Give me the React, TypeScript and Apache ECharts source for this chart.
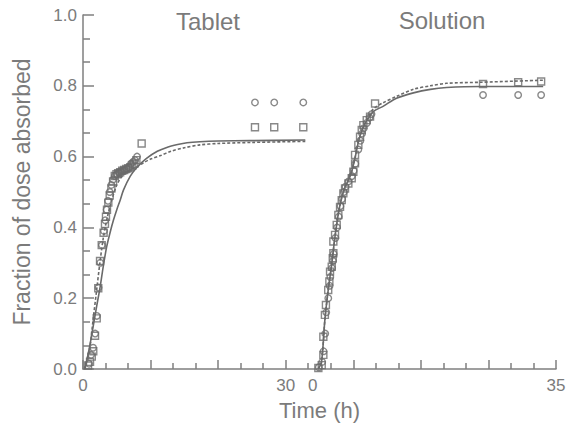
import React, { useEffect, useRef } from "react";
import * as echarts from "echarts";

// ---------- data (time in hours, fraction absorbed) ----------
const tabletSquareTime = [0.75, 1.04, 1.3, 1.52, 1.78, 2.03, 2.26, 2.52, 2.77, 3.05, 3.25, 3.4, 3.55, 3.75, 3.95, 4.2, 4.45, 4.7, 4.95, 5.2, 5.5, 5.8, 6.1, 6.4, 6.7, 7.0, 7.3, 7.6, 7.9, 8.68, 25.45, 28.3, 32.6];
const tabletSquareValue = [0.01, 0.02, 0.035, 0.05, 0.094, 0.143, 0.228, 0.305, 0.35, 0.385, 0.41, 0.43, 0.45, 0.47, 0.49, 0.51, 0.53, 0.545, 0.55, 0.553, 0.556, 0.56, 0.562, 0.565, 0.567, 0.57, 0.575, 0.58, 0.59, 0.637, 0.683, 0.683, 0.683];

const tabletCircleTime = [0.9, 1.2, 1.5, 1.8, 2.05, 2.3, 2.55, 2.8, 3.1, 3.3, 3.5, 3.7, 3.95, 4.2, 4.45, 4.7, 5.0, 5.3, 5.6, 5.9, 6.2, 6.5, 6.8, 7.1, 7.4, 7.7, 8.0, 25.45, 28.3, 32.6];
const tabletCircleValue = [0.015, 0.04, 0.06, 0.1, 0.15, 0.23, 0.3, 0.35, 0.39, 0.42, 0.45, 0.475, 0.5, 0.52, 0.535, 0.545, 0.55, 0.555, 0.558, 0.56, 0.562, 0.565, 0.57, 0.58, 0.585, 0.59, 0.6, 0.753, 0.753, 0.753];

const tabletSolidTime = [0.3, 1, 1.5, 2, 2.52, 3, 3.5, 4, 4.5, 5, 5.5, 6, 7, 8, 9.4, 11, 12.4, 14, 15.4, 17.3, 20, 24.7, 32.9];
const tabletSolidValue = [0, 0.065, 0.12, 0.175, 0.23, 0.29, 0.345, 0.385, 0.42, 0.45, 0.477, 0.506, 0.545, 0.57, 0.595, 0.615, 0.626, 0.634, 0.639, 0.642, 0.644, 0.645, 0.647];

const tabletDashedTime = [0.2, 1, 1.5, 2, 2.5, 3, 3.5, 4, 5, 6, 7, 8, 9, 10, 11.5, 13, 15, 17.3, 20, 25, 32.9];
const tabletDashedValue = [0, 0.06, 0.14, 0.22, 0.3, 0.37, 0.42, 0.46, 0.52, 0.55, 0.562, 0.572, 0.583, 0.593, 0.603, 0.615, 0.625, 0.633, 0.637, 0.64, 0.643];

const solutionSquareTime = [0.03, 0.53, 0.77, 0.77, 1.0, 1.15, 1.49, 1.66, 1.76, 2.01, 2.16, 2.25, 2.25, 2.5, 2.75, 2.99, 3.24, 3.49, 3.73, 3.98, 4.47, 4.97, 5.21, 5.46, 5.46, 5.95, 6.2, 6.45, 6.69, 7.19, 7.68, 8.42, 24.4, 29.6, 33.0];
const solutionSquareValue = [0.003, 0.011, 0.04, 0.091, 0.153, 0.181, 0.223, 0.247, 0.275, 0.289, 0.313, 0.327, 0.36, 0.379, 0.407, 0.435, 0.458, 0.477, 0.496, 0.51, 0.524, 0.539, 0.557, 0.581, 0.605, 0.633, 0.656, 0.675, 0.689, 0.703, 0.713, 0.75, 0.805, 0.81, 0.812];

const solutionCircleTime = [0.1, 0.6, 0.8, 1.05, 1.2, 1.5, 1.7, 1.8, 2.05, 2.2, 2.3, 2.55, 2.8, 3.05, 3.3, 3.55, 3.8, 4.05, 4.5, 5.0, 5.25, 5.5, 5.95, 6.25, 6.5, 6.75, 7.2, 7.6, 7.9, 24.4, 29.6, 33.0];
const solutionCircleValue = [0.005, 0.02, 0.05, 0.1, 0.16, 0.2, 0.235, 0.26, 0.285, 0.305, 0.325, 0.37, 0.4, 0.43, 0.46, 0.48, 0.5, 0.515, 0.53, 0.545, 0.56, 0.58, 0.62, 0.645, 0.665, 0.68, 0.695, 0.71, 0.72, 0.774, 0.774, 0.774];

const solutionSolidTime = [0, 0.5, 1, 1.5, 2, 2.5, 3, 3.5, 4, 4.5, 5, 5.5, 6, 6.5, 7, 7.5, 8.2, 9.6, 11.6, 14.1, 16.6, 19, 24, 33.3];
const solutionSolidValue = [0, 0.02, 0.14, 0.225, 0.295, 0.375, 0.44, 0.485, 0.515, 0.535, 0.56, 0.6, 0.645, 0.675, 0.695, 0.71, 0.728, 0.742, 0.765, 0.78, 0.79, 0.795, 0.798, 0.798];

const solutionDashedTime = [0, 0.5, 1, 1.5, 2, 2.5, 3, 3.5, 4, 4.5, 5, 5.5, 6, 6.5, 7, 7.5, 8.2, 9.6, 11.6, 14.1, 16.6, 19, 24, 33.5];
const solutionDashedValue = [0, 0.02, 0.14, 0.225, 0.295, 0.375, 0.44, 0.485, 0.515, 0.535, 0.56, 0.6, 0.645, 0.675, 0.697, 0.715, 0.735, 0.752, 0.77, 0.79, 0.8, 0.807, 0.81, 0.816];

// tick labels of the shared time axis (tablet 0..30, solution 0..35)
const xLabelPositions = [0, 30, 34, 70];
const xLabelTexts = ["0", "30", "0", "35"];
const panelTitles = ["Tablet", "Solution"];

const FONT = '"Liberation Sans", Arial, Helvetica, sans-serif';
const TEXT = "#7b7b7b";
const AXIS = "#7f7f7f";
const MARK = "#6a6a6a";

const pairs = (t: number[], v: number[]) => t.map((x, i) => [x, v[i]]);

export default function App() {
  const ref = useRef<HTMLDivElement>(null);
  useEffect(() => {
    if (!ref.current) return;
    const chart = echarts.init(ref.current, undefined, { renderer: "svg" });
    const scatterStyle = {
      color: "rgba(0,0,0,0)",
      borderColor: MARK,
      borderWidth: 1.4,
    };
    const squareBase = { type: "scatter", symbol: "rect", symbolSize: 7, itemStyle: scatterStyle, z: 3 };
    const circleBase = { type: "scatter", symbol: "circle", symbolSize: 6.5, itemStyle: scatterStyle, z: 3 };
    const lineBase = { type: "line", showSymbol: false, smooth: 0.3, z: 2 };
    chart.setOption({
      animation: false,
      backgroundColor: "#ffffff",
      grid: { left: 83, right: 14, top: 15, bottom: 61, containLabel: false },
      graphic: [
        {
          type: "text",
          x: 208,
          y: 9,
          style: { text: panelTitles[0], fill: TEXT, font: `24px ${FONT}`, align: "center", verticalAlign: "top" },
        },
        {
          type: "text",
          x: 442,
          y: 8,
          style: { text: panelTitles[1], fill: TEXT, font: `24px ${FONT}`, align: "center", verticalAlign: "top" },
        },
      ],
      xAxis: [
        {
          type: "value",
          min: 0,
          max: 70,
          interval: 10,
          position: "bottom",
          axisLine: { show: true, onZero: false, lineStyle: { color: AXIS, width: 1.5 } },
          axisTick: { show: true, inside: true, length: 9, lineStyle: { color: AXIS, width: 1.5 } },
          minorTick: { show: true, splitNumber: 3, length: 6, lineStyle: { color: AXIS, width: 1.5 } },
          splitLine: { show: false },
          minorSplitLine: { show: false },
          axisLabel: {
            customValues: xLabelPositions,
            formatter: (v: number) => {
              const i = xLabelPositions.indexOf(v);
              return i >= 0 ? xLabelTexts[i] : "";
            },
            color: TEXT,
            fontSize: 17,
            fontFamily: FONT,
            margin: 8,
          },
          name: "Time (h)",
          nameLocation: "middle",
          nameGap: 30,
          nameTextStyle: { color: TEXT, fontSize: 22, fontFamily: FONT },
        },
        {
          type: "value",
          min: -34.8,
          max: 35.2,
          show: false,
        },
      ],
      yAxis: {
        type: "value",
        min: 0,
        max: 1,
        interval: 0.2,
        axisLine: { show: true, lineStyle: { color: AXIS, width: 1.5 } },
        axisTick: { show: true, inside: true, length: 11, lineStyle: { color: AXIS, width: 1.5 } },
        minorTick: { show: true, splitNumber: 3, length: 7, lineStyle: { color: AXIS, width: 1.5 } },
        splitLine: { show: false },
        minorSplitLine: { show: false },
        axisLabel: {
          formatter: (v: number) => v.toFixed(1),
          color: TEXT,
          fontSize: 17,
          fontFamily: FONT,
          margin: 6,
        },
        name: "Fraction of dose absorbed",
        nameLocation: "middle",
        nameGap: 50,
        nameTextStyle: { color: TEXT, fontSize: 23, fontFamily: FONT },
      },
      series: [
        { ...lineBase, xAxisIndex: 0, data: pairs(tabletSolidTime, tabletSolidValue), lineStyle: { color: MARK, width: 1.6 } },
        { ...lineBase, xAxisIndex: 0, data: pairs(tabletDashedTime, tabletDashedValue), lineStyle: { color: MARK, width: 1.6, type: [3, 2] } },
        { ...squareBase, xAxisIndex: 0, data: pairs(tabletSquareTime, tabletSquareValue) },
        { ...circleBase, xAxisIndex: 0, data: pairs(tabletCircleTime, tabletCircleValue) },
        { ...lineBase, xAxisIndex: 1, data: pairs(solutionSolidTime, solutionSolidValue), lineStyle: { color: MARK, width: 1.6 } },
        { ...lineBase, xAxisIndex: 1, data: pairs(solutionDashedTime, solutionDashedValue), lineStyle: { color: MARK, width: 1.6, type: [3, 2] } },
        { ...squareBase, xAxisIndex: 1, data: pairs(solutionSquareTime, solutionSquareValue) },
        { ...circleBase, xAxisIndex: 1, data: pairs(solutionCircleTime, solutionCircleValue) },
      ],
    });
    return () => chart.dispose();
  }, []);
  return <div ref={ref} style={{ width: 570, height: 430, position: "absolute", left: 0, top: 0 }} />;
}
